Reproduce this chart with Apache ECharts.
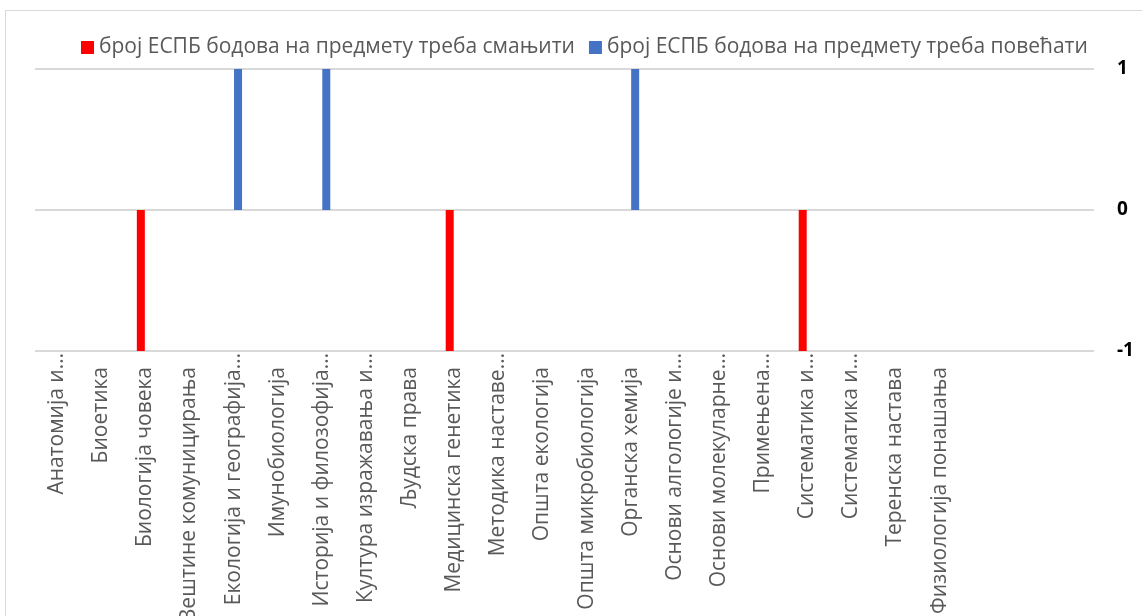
<!DOCTYPE html>
<html>
<head>
<meta charset="utf-8">
<script src="https://cdn.jsdelivr.net/npm/echarts@6/dist/echarts.min.js"></script>
<style>
  html, body { margin: 0; padding: 0; background: #fff; }
  #frame { position: absolute; left: 5px; top: 10px; width: 1200px; height: 700px; border: 1px solid #d9d9d9; }
  #chart { position: absolute; left: 0; top: 0; width: 1142px; height: 616px; }
</style>
</head>
<body>
<div id="frame"></div>
<div id="chart"></div>
<script>
  // предмети (последње три колоне немају назив)
  var subjects = [
    'Анатомија и…', 'Биоетика', 'Биологија човека', 'Вештине комуницирања',
    'Екологија и географија…', 'Имунобиологија', 'Историја и филозофија…',
    'Култура изражавања и…', 'Људска права', 'Медицинска генетика',
    'Методика наставе…', 'Општа екологија', 'Општа микробиологија',
    'Органска хемија', 'Основи алгологије и…', 'Основи молекуларне…',
    'Примењена…', 'Систематика и…', 'Систематика и…', 'Теренска настава',
    'Физиологија понашања', '', '', ''
  ];
  var decrease = [0, 0, -1, 0, 0, 0, 0, 0, 0, -1, 0, 0, 0, 0, 0, 0, 0, -1, 0, 0, 0, 0, 0, 0];
  var increase = [0, 0, 0, 0, 1, 0, 1, 0, 0, 0, 0, 0, 0, 1, 0, 0, 0, 0, 0, 0, 0, 0, 0, 0];
  var yTicks = [-1, 0, 1];

  var font = '"Open Sans", "Noto Sans", sans-serif';

  var option = {
    animation: false,
    textStyle: { fontFamily: font },
    legend: {
      top: 32,
      left: 76,
      itemWidth: 13,
      itemHeight: 13,
      itemGap: 14,
      icon: 'rect',
      textStyle: { fontSize: 21, color: '#595959', fontFamily: font },
      data: ['број ЕСПБ бодова на предмету треба смањити', 'број ЕСПБ бодова на предмету треба повећати']
    },
    grid: { left: 35, right: 48, top: 69, bottom: 265, outerBoundsMode: 'none' },
    xAxis: {
      type: 'category',
      data: subjects,
      axisLine: { show: false },
      axisTick: { show: false },
      axisLabel: {
        interval: 0,
        rotate: 90,
        margin: 2,
        fontSize: 21,
        color: '#595959',
        fontFamily: font,
        // скраћени називи почињу уз осу, остали мало ниже
        formatter: function (v) {
          return v.slice(-1) === '…' ? '{t|' + v + '}' : '{p|' + v + '}';
        },
        rich: {
          t: { fontSize: 21, color: '#595959', fontFamily: font },
          p: { fontSize: 21, color: '#595959', fontFamily: font, padding: [0, 14, 0, 0] }
        }
      }
    },
    yAxis: {
      type: 'value',
      position: 'right',
      min: yTicks[0],
      max: yTicks[yTicks.length - 1],
      interval: 1,
      axisLine: { show: false },
      axisTick: { show: false },
      splitLine: { lineStyle: { color: '#d9d9d9', width: 2 } },
      axisLabel: {
        margin: 23,
        fontSize: 19,
        fontWeight: 'bold',
        color: '#000',
        fontFamily: font
      }
    },
    series: [
      {
        name: 'број ЕСПБ бодова на предмету треба смањити',
        type: 'bar',
        data: decrease,
        barWidth: 8,
        barGap: '12%',
        itemStyle: { color: '#ff0000' }
      },
      {
        name: 'број ЕСПБ бодова на предмету треба повећати',
        type: 'bar',
        data: increase,
        barWidth: 8,
        barGap: '12%',
        itemStyle: { color: '#4472c4' }
      }
    ]
  };

  var myChart = echarts.init(document.getElementById('chart'));
  myChart.setOption(option);
  window.addEventListener('resize', function () {
    myChart.resize();
  });
</script>
</body>
</html>
